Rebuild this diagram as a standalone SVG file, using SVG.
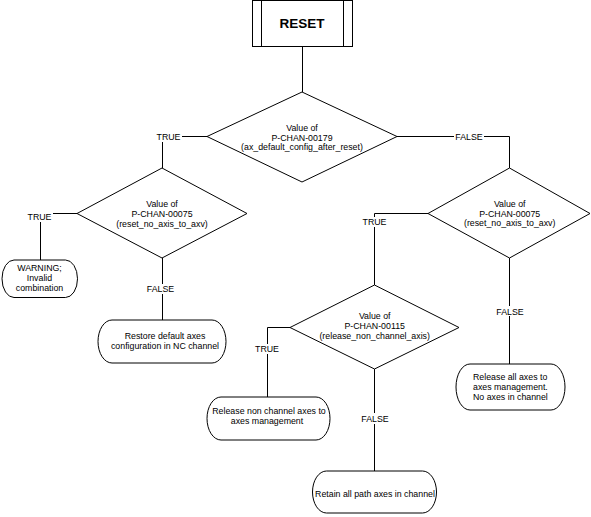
<svg xmlns="http://www.w3.org/2000/svg" width="591" height="517" viewBox="0 0 591 517">
<style>
.s{fill:#fff;stroke:#000;stroke-width:1}
.c{fill:none;stroke:#000;stroke-width:1}
text{font-family:"Liberation Sans",Arial,sans-serif;font-size:8.8px;fill:#000;text-anchor:middle}
.t{font-size:13.5px;font-weight:bold}
.l{text-anchor:start}
</style>
<rect width="591" height="517" fill="#fff"/>
<g id="connectors">
<path class="c" d="M302.5,47 V92"/>
<path class="c" d="M207,136.5 H182 M162.5,142 V168"/>
<path class="c" d="M397,136.5 H454 M484,136.5 H509.5 V168"/>
<path class="c" d="M77,213.5 H53 M40.5,222 V260"/>
<path class="c" d="M162.5,258 V284 M162.5,294 V320"/>
<path class="c" d="M428,213.5 H374.5 V217 M374.5,227 V285"/>
<path class="c" d="M509.5,258 V306 M509.5,316 V364"/>
<path class="c" d="M290,327.5 H267.5 V344 M267.5,354 V397"/>
<path class="c" d="M374.5,369 V413 M374.5,424 V471"/>
<text x="168.5" y="140">TRUE</text>
<text x="469" y="139.5">FALSE</text>
<text x="39.5" y="220">TRUE</text>
<text x="160.5" y="291.5">FALSE</text>
<text x="374.5" y="225">TRUE</text>
<text x="510" y="314.5">FALSE</text>
<text x="267" y="352">TRUE</text>
<text x="375" y="421.5">FALSE</text>
</g>
<g id="reset">
<rect class="s" x="252.5" y="0.5" width="100" height="46"/>
<path class="c" d="M261.5,0.5 V46.5 M343.5,0.5 V46.5"/>
<text class="t" x="302" y="28">RESET</text>
</g>
<g id="d1">
<polygon class="s" points="302,92 397,136.5 302,182 207,136.5"/>
<text x="302" y="131">Value of</text>
<text x="302" y="140.5">P-CHAN-00179</text>
<text x="302" y="150">(ax_default_config_after_reset)</text>
</g>
<g id="d2">
<polygon class="s" points="162,168 247,213.5 162,258 77,213.5"/>
<text x="162" y="207">Value of</text>
<text x="162" y="217">P-CHAN-00075</text>
<text x="162" y="226.7">(reset_no_axis_to_axv)</text>
</g>
<g id="d3">
<polygon class="s" points="509.5,168 590,213.5 509.5,258 428,213.5"/>
<text x="509.7" y="206.7">Value of</text>
<text x="509.7" y="216.5">P-CHAN-00075</text>
<text x="509.7" y="226">(reset_no_axis_to_axv)</text>
</g>
<g id="d4">
<polygon class="s" points="374.5,285 459,327.5 374.5,369 290,327.5"/>
<text x="374.7" y="319">Value of</text>
<text x="374.7" y="329">P-CHAN-00115</text>
<text x="374.7" y="338.5">(release_non_channel_axis)</text>
</g>
<g id="warning">
<rect class="s" x="2" y="260" width="75.5" height="37.5" rx="12" ry="18.75"/>
<text x="39.5" y="271">WARNING;</text>
<text x="39.5" y="281">Invalid</text>
<text x="39.5" y="290.7">combination</text>
</g>
<g id="restore">
<rect class="s" x="98" y="320" width="128" height="43" rx="14" ry="21.5"/>
<text x="165" y="338.5">Restore default axes</text>
<text x="165" y="348.5">configuration in NC channel</text>
</g>
<g id="release-non">
<rect class="s" x="207" y="397" width="123" height="43" rx="14" ry="21.5"/>
<text x="269" y="413.5">Release non channel axes to</text>
<text x="267" y="423.5">axes management</text>
</g>
<g id="retain">
<rect class="s" x="312.5" y="471" width="124" height="42" rx="14" ry="21"/>
<text x="375" y="497">Retain all path axes in channel</text>
</g>
<g id="release-all">
<rect class="s" x="456" y="364" width="109" height="46" rx="14" ry="23"/>
<text class="l" x="473" y="379.5">Release all axes to</text>
<text class="l" x="473" y="390">axes management.</text>
<text class="l" x="473" y="400">No axes in channel</text>
</g>
</svg>
